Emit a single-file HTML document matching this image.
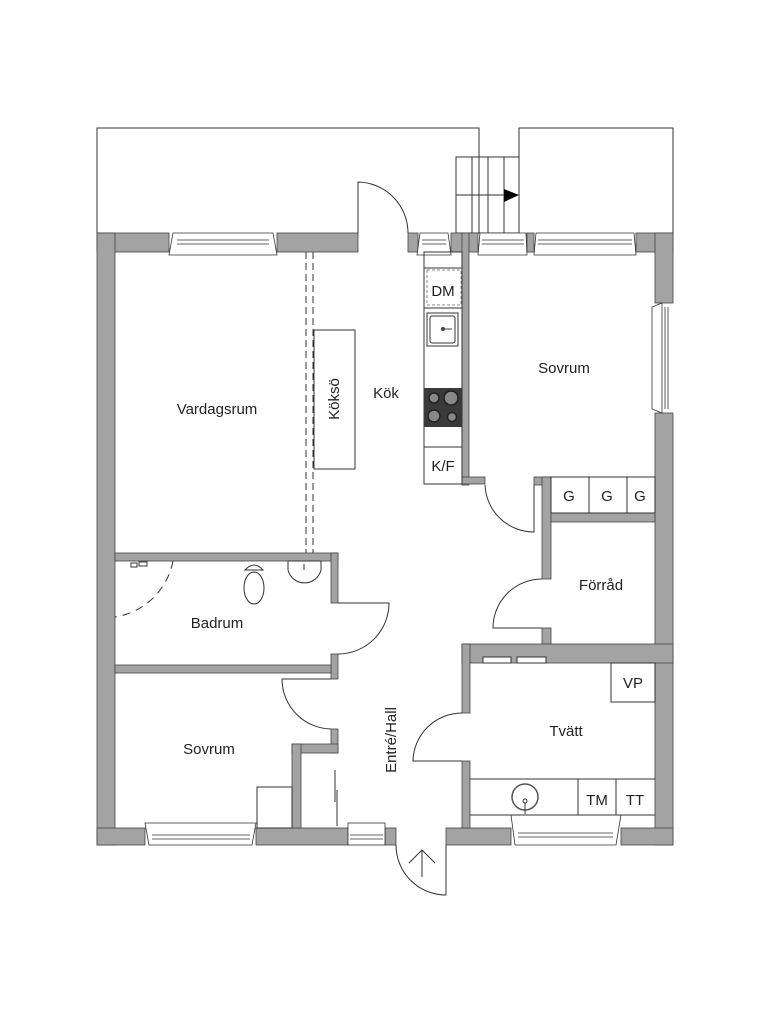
<!DOCTYPE html>
<html><head><meta charset="utf-8"><style>
html,body{margin:0;padding:0;background:#fff;}
svg{display:block}
text{font-family:"Liberation Sans",sans-serif;font-size:15px;fill:#222;}
</style></head><body>
<svg width="770" height="1024" viewBox="0 0 770 1024" xmlns="http://www.w3.org/2000/svg">
<g fill="none" stroke="#333" stroke-width="1">
<!-- balconies -->
<polyline points="97,233 97,128 479,128 479,233"/>
<polyline points="519,233 519,128 673,128 673,233"/>
<!-- stairs -->
<rect x="456" y="157" width="63" height="76"/>
<line x1="472" y1="157" x2="472" y2="233"/><line x1="488" y1="157" x2="488" y2="233"/><line x1="504" y1="157" x2="504" y2="233"/>
<line x1="456" y1="195" x2="504" y2="195"/>
</g>
<polygon points="504,189 519,195 504,202" fill="#000"/>

<!-- walls -->
<g fill="#a3a3a3" stroke="#444" stroke-width="0.8">
<rect x="97" y="233" width="72" height="19"/>
<rect x="277" y="233" width="81" height="19"/>
<rect x="408" y="233" width="10" height="19"/>
<rect x="451" y="233" width="27" height="19"/>
<rect x="462" y="233" width="7" height="252"/>
<rect x="527" y="233" width="7" height="19"/>
<rect x="636" y="233" width="37" height="19"/>
<rect x="97" y="233" width="18" height="612"/>
<rect x="655" y="233" width="18" height="70"/>
<rect x="655" y="413" width="18" height="432"/>
<rect x="97" y="828" width="48" height="17"/>
<rect x="256" y="828" width="92" height="17"/>
<rect x="385" y="828" width="11" height="17"/>
<rect x="446" y="828" width="65" height="17"/>
<rect x="621" y="828" width="52" height="17"/>
<rect x="462" y="477" width="23" height="7"/>
<rect x="534" y="477" width="17" height="8"/>
<rect x="542" y="477" width="9" height="102"/>
<rect x="542" y="628" width="9" height="20"/>
<rect x="551" y="513" width="104" height="9"/>
<rect x="462" y="644" width="211" height="19"/>
<rect x="462" y="644" width="8" height="69"/>
<rect x="462" y="761" width="8" height="67"/>
<rect x="115" y="553" width="223" height="8"/>
<rect x="331" y="553" width="7" height="50"/>
<rect x="331" y="654" width="7" height="25"/>
<rect x="115" y="665" width="216" height="8"/>
<rect x="331" y="729" width="7" height="24"/>
<rect x="292" y="744" width="46" height="9"/>
<rect x="292" y="744" width="9" height="84"/>
</g>

<!-- windows -->
<g fill="#fff" stroke="#333" stroke-width="0.8">
<polygon points="173,233 273,233 277,255 169,255"/>
<line x1="177" y1="240" x2="269" y2="240"/><line x1="177" y1="244" x2="269" y2="244"/>
<polygon points="420,233 448,233 451,255 417,255"/>
<line x1="422" y1="240" x2="446" y2="240"/><line x1="422" y1="244" x2="446" y2="244"/>
<polygon points="480,233 526,233 527,255 478,255"/>
<line x1="482" y1="240" x2="524" y2="240"/><line x1="482" y1="244" x2="524" y2="244"/>
<polygon points="536,233 634,233 636,255 534,255"/>
<line x1="538" y1="240" x2="632" y2="240"/><line x1="538" y1="244" x2="632" y2="244"/>
<polygon points="652,307 662,303 662,413 652,409"/>
<line x1="665" y1="307" x2="665" y2="409"/><line x1="668" y1="307" x2="668" y2="409"/>
<polygon points="145,823 256,823 252,845 149,845"/>
<line x1="152" y1="835" x2="250" y2="835"/><line x1="152" y1="839" x2="250" y2="839"/>
<rect x="348" y="823" width="37" height="22"/>
<line x1="350" y1="835" x2="383" y2="835"/><line x1="350" y1="839" x2="383" y2="839"/>
<polygon points="511,815 621,815 616,845 515,845"/>
<line x1="518" y1="833" x2="613" y2="833"/><line x1="518" y1="837" x2="613" y2="837"/>
</g>

<g fill="none" stroke="#333" stroke-width="1">
<!-- doors -->
<path d="M358,233 L358,182 A51,51 0 0 1 408,233"/>
<path d="M485,485 A49,49 0 0 0 534,532 L534,485"/>
<path d="M542,579 A49,49 0 0 0 493,628 L542,628"/>
<path d="M338,603 L389,603 A51,51 0 0 1 338,654"/>
<path d="M331,679 L282,679 A50,50 0 0 0 331,729"/>
<path d="M462,713 A49,49 0 0 0 413,761 L462,761"/>
<path d="M396,845 A50,50 0 0 0 446,895 L446,845"/>
<line x1="422" y1="877" x2="422" y2="850"/>
<polyline points="409,863 422,850 435,863"/>
<!-- kitchen -->
<rect x="424" y="252" width="38" height="232"/>
<line x1="424" y1="268" x2="462" y2="268"/>
<line x1="424" y1="308" x2="462" y2="308"/>
<line x1="424" y1="447" x2="462" y2="447"/>
<rect x="427" y="313" width="31" height="33"/>
<rect x="430" y="316" width="25" height="27" rx="2"/>
<rect x="314" y="330" width="41" height="139"/>
<line x1="306" y1="252" x2="306" y2="553" stroke-dasharray="7,4"/>
<line x1="313" y1="252" x2="313" y2="553" stroke-dasharray="7,4"/>
<!-- closets -->
<rect x="551" y="477" width="104" height="36"/>
<line x1="589" y1="477" x2="589" y2="513"/><line x1="627" y1="477" x2="627" y2="513"/>
<!-- tvatt -->
<rect x="611" y="663" width="44" height="39"/>
<line x1="470" y1="779" x2="655" y2="779"/>
<line x1="578" y1="779" x2="578" y2="815"/><line x1="616" y1="779" x2="616" y2="815"/>
<line x1="470" y1="815" x2="655" y2="815"/>
<circle cx="525" cy="797" r="13" stroke="#555" stroke-width="1.5"/>
<circle cx="525" cy="801" r="2"/>
<line x1="525" y1="803" x2="525" y2="814"/>
<rect x="483" y="657" width="28" height="6" fill="#fff"/>
<rect x="517" y="657" width="29" height="6" fill="#fff"/>
<!-- bath -->
<path d="M173,561 A70,70 0 0 1 115,617" stroke-dasharray="8,6"/>
<ellipse cx="254" cy="588" rx="10" ry="16"/>
<path d="M245,570 Q254,560 263,570 Z"/>
<path d="M288,561 L321,561 L321,570 A17,17 0 0 1 288,570 Z"/>
<line x1="304" y1="564" x2="304" y2="570"/>
<path d="M131,563 l6,0 0,4 -6,0z M139,562 l8,0 0,4 -8,0z"/>
<!-- sovrum bottom-left -->
<rect x="257" y="787" width="35" height="41"/>
<line x1="335" y1="770" x2="335" y2="802"/>
<line x1="337" y1="790" x2="337" y2="826"/>
</g>
<rect x="427" y="270" width="34" height="35" fill="none" stroke="#888" stroke-dasharray="3,2"/>
<circle cx="443" cy="329" r="2" fill="#444"/><line x1="443" y1="329" x2="452" y2="329" stroke="#444"/>
<!-- stove -->
<rect x="424" y="388" width="38" height="39" fill="#3a3a3a"/>
<g fill="#888" stroke="#222" stroke-width="1.5">
<circle cx="434" cy="398" r="5"/><circle cx="451" cy="398" r="7"/>
<circle cx="434" cy="416" r="6"/><circle cx="452" cy="417" r="4.5"/>
</g>

<!-- labels -->
<text x="217" y="414" text-anchor="middle">Vardagsrum</text>
<text x="386" y="398" text-anchor="middle">Kök</text>
<text x="564" y="373" text-anchor="middle">Sovrum</text>
<text transform="translate(339,399) rotate(-90)" text-anchor="middle">Köksö</text>
<text x="443" y="296" text-anchor="middle">DM</text>
<text x="443" y="471" text-anchor="middle">K/F</text>
<text x="569" y="501" text-anchor="middle">G</text>
<text x="607" y="501" text-anchor="middle">G</text>
<text x="640" y="501" text-anchor="middle">G</text>
<text x="601" y="590" text-anchor="middle">Förråd</text>
<text x="217" y="628" text-anchor="middle">Badrum</text>
<text x="209" y="754" text-anchor="middle">Sovrum</text>
<text x="566" y="736" text-anchor="middle">Tvätt</text>
<text x="633" y="688" text-anchor="middle">VP</text>
<text x="597" y="805" text-anchor="middle">TM</text>
<text x="635" y="805" text-anchor="middle">TT</text>
<text transform="translate(396,740) rotate(-90)" text-anchor="middle">Entré/Hall</text>
</svg>
</body></html>
